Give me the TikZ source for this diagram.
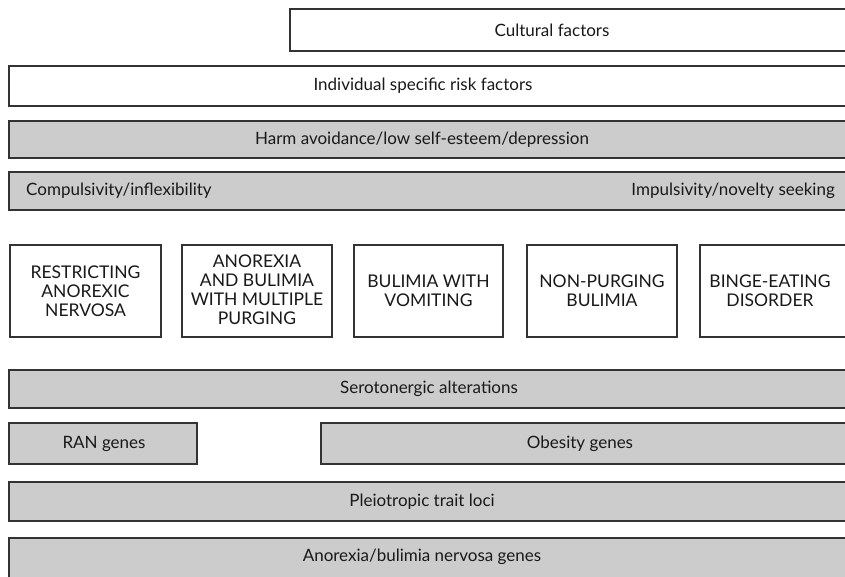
\documentclass[tikz,border=0pt]{standalone}
\usepackage{fontspec}
\setmainfont{Lato}
\begin{document}
\begin{tikzpicture}[x=1pt,y=-1pt,
  bx/.style={draw=black!80, line width=1.3pt, inner sep=0pt},
  wbox/.style={bx, fill=white},
  gbox/.style={bx, fill=black!20},
  lbl/.style={font=\fontsize{17}{20}\selectfont, text=black!90, inner sep=0pt},
  clbl/.style={font=\fontsize{17.5}{19}\selectfont, text=black!90, align=center, inner sep=0pt}]
\useasboundingbox (0,0) rectangle (845,577);
\clip (0,0) rectangle (845,577);
% top rows
\node[wbox, minimum width=560pt, minimum height=42pt] (cult) at (570,30) {};
\node[lbl] (cultT) at (552,30) {Cultural factors};
\node[wbox, minimum width=841pt, minimum height=40pt] (indiv) at (429.5,86) {};
\node[lbl] (indivT) at (423,86) {Individual specific risk factors};
\node[gbox, minimum width=841pt, minimum height=37pt] (harm) at (429.5,139.5) {};
\node[lbl] (harmT) at (422,139.5) {Harm avoidance/low self-esteem/depression};
\node[gbox, minimum width=841pt, minimum height=38pt] (comp) at (429.5,191) {};
\node[lbl, anchor=west] (compT) at (26,191) {Compulsivity/inflexibility};
\node[lbl, anchor=east] (impT) at (835,191) {Impulsivity/novelty seeking};
% disorders
\node[wbox, minimum width=151pt, minimum height=92pt] (d1) at (85.5,291) {};
\node[clbl] (d1T) at (85.5,291) {RESTRICTING\\ANOREXIC\\NERVOSA};
\node[wbox, minimum width=150pt, minimum height=92pt] (d2) at (257,291) {};
\node[clbl] (d2T) at (257,290) {ANOREXIA\\AND BULIMIA\\WITH MULTIPLE\\PURGING};
\node[wbox, minimum width=149pt, minimum height=92pt] (d3) at (428.5,291) {};
\node[clbl] (d3T) at (428.5,291) {BULIMIA WITH\\VOMITING};
\node[wbox, minimum width=150pt, minimum height=92pt] (d4) at (602,291) {};
\node[clbl] (d4T) at (602,291) {NON-PURGING\\BULIMIA};
\node[wbox, minimum width=150pt, minimum height=92pt] (d5) at (775,291) {};
\node[clbl] (d5T) at (770,291) {BINGE-EATING\\DISORDER};
% bottom rows
\node[gbox, minimum width=841pt, minimum height=38pt] (sero) at (429.5,389) {};
\node[lbl] (seroT) at (429,389) {Serotonergic alterations};
\node[gbox, minimum width=188pt, minimum height=41pt] (ran) at (103,443.5) {};
\node[lbl] (ranT) at (104,443.5) {RAN genes};
\node[gbox, minimum width=529pt, minimum height=41pt] (obes) at (585.5,443.5) {};
\node[lbl] (obesT) at (580,443.5) {Obesity genes};
\node[gbox, minimum width=841pt, minimum height=39pt] (pleio) at (429.5,501.5) {};
\node[lbl] (pleioT) at (422,501.5) {Pleiotropic trait loci};
\node[gbox, minimum width=841pt, minimum height=52pt] (anbn) at (429.5,564) {};
\node[lbl] (anbnT) at (422,557) {Anorexia/bulimia nervosa genes};
\end{tikzpicture}
\end{document}
